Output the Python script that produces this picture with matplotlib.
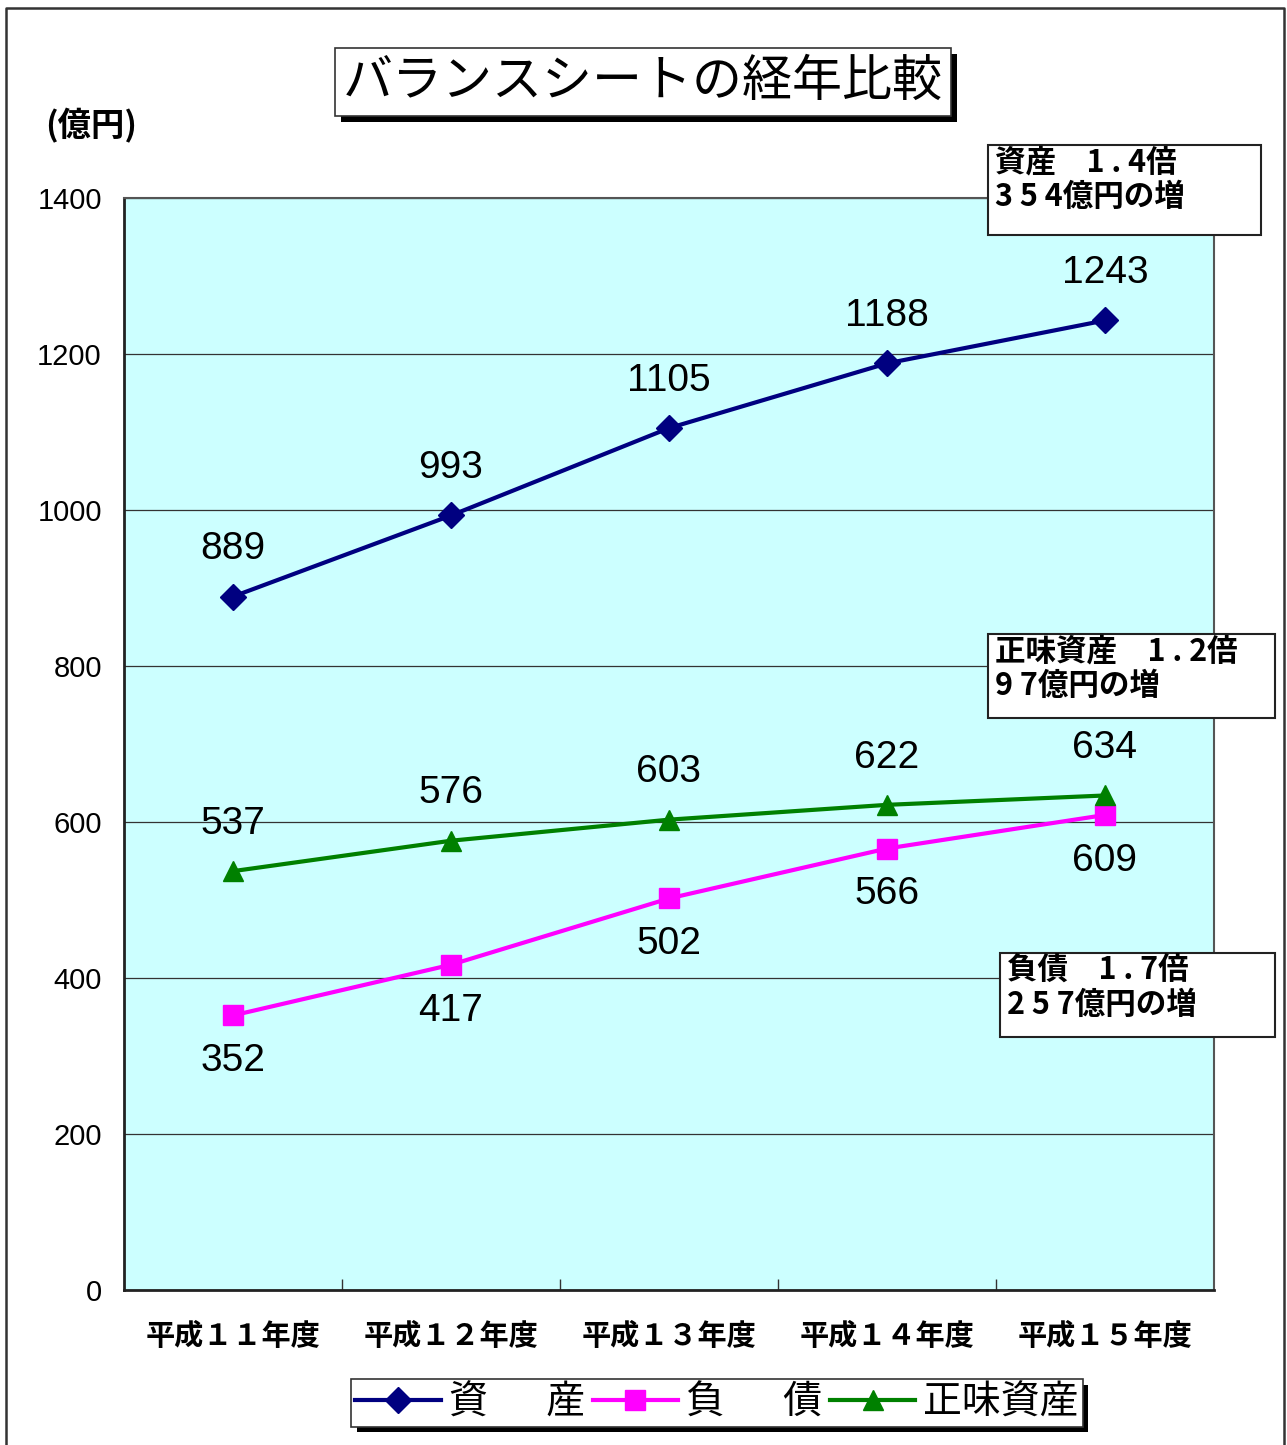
import matplotlib
matplotlib.use("Agg")
import matplotlib.pyplot as plt
import matplotlib.patheffects as pe
from matplotlib.lines import Line2D

plt.rcParams['font.family'] = ['Liberation Sans', 'Noto Sans CJK JP', 'DejaVu Sans']

# データ
years = ['平成１１年度', '平成１２年度', '平成１３年度', '平成１４年度', '平成１５年度']
assets = [889, 993, 1105, 1188, 1243]
liabilities = [352, 417, 502, 566, 609]
net_assets = [537, 576, 603, 622, 634]
series_names = ['資\u3000\u2002産', '負\u3000\u2002債', '正味資産']
notes = ['資産　1 . 4倍\n3 5 4億円の増',
         '正味資産　1 . 2倍\n9 7億円の増',
         '負債　1 . 7倍\n2 5 7億円の増']

cjk = ['Noto Sans CJK JP', 'DejaVu Sans']

fig = plt.figure(figsize=(12.87, 14.45), dpi=100)
W, H = 1287, 1445

# outer frame (open at the bottom)
fig.add_artist(Line2D([6 / W, 6 / W, 1284 / W, 1284 / W], [0, 1 - 8 / H, 1 - 8 / H, 0],
                      transform=fig.transFigure, color='#333333', lw=1.8))

ax = fig.add_axes([124 / W, 1 - 1290 / H, (1214 - 124) / W, (1290 - 198) / H])
ax.set_facecolor('#CCFFFF')

x = range(len(years))
ax.plot(x, assets, color='#000080', lw=3, marker='D', ms=13, label=series_names[0], zorder=3)
ax.plot(x, liabilities, color='#FF00FF', lw=3, marker='s', ms=14, label=series_names[1], zorder=3)
ax.plot(x, net_assets, color='#008000', lw=3, marker='^', ms=14, label=series_names[2], zorder=3)

# data labels
for i in x:
    ax.annotate(str(assets[i]), (i, assets[i]), xytext=(0, 34), textcoords='offset points',
                ha='center', va='center', fontsize=28)
    ax.annotate(str(liabilities[i]), (i, liabilities[i]), xytext=(0, -33), textcoords='offset points',
                ha='center', va='center', fontsize=28)
    ax.annotate(str(net_assets[i]), (i, net_assets[i]), xytext=(0, 34), textcoords='offset points',
                ha='center', va='center', fontsize=28)

ax.set_xlim(-0.5, 4.5)
ax.set_ylim(0, 1400)
ax.set_yticks(range(0, 1401, 200))
ax.yaxis.grid(True, color='#333333', lw=0.9)
ax.set_axisbelow(True)
ax.tick_params(axis='y', length=0, pad=16, labelsize=21)
ax.set_xticks(list(x))
ax.set_xticklabels(years, fontfamily=cjk, fontweight='bold', fontsize=21)
ax.set_xticks([0.5, 1.5, 2.5, 3.5], minor=True)
ax.tick_params(axis='x', which='major', length=0, pad=22)
ax.tick_params(axis='x', which='minor', direction='in', length=8, width=1, color='#333333')

for s in ['left', 'bottom']:
    ax.spines[s].set_color('#222222')
    ax.spines[s].set_linewidth(2)
for s in ['top', 'right']:
    ax.spines[s].set_color('#555555')
    ax.spines[s].set_linewidth(1.5)

shadow = [pe.SimplePatchShadow(offset=(4, -4), shadow_rgbFace='black', alpha=1), pe.Normal()]

# title
t = fig.text(643 / W, 1 - 82 / H, 'バランスシートの経年比較', ha='center', va='center',
             fontsize=36, family=cjk,
             bbox=dict(boxstyle='square,pad=0.16', fc='white', ec='#333333', lw=1.2))
t.get_bbox_patch().set_path_effects(shadow)

fig.text(45 / W, 1 - 126 / H, '(億円)', ha='left', va='center', fontsize=24,
         fontweight='bold', family=cjk)

# note boxes
note_pos = [(988, 145, 1261, 235), (988, 634, 1275, 718), (1000, 953, 1275, 1037)]
for txt, (x0, y0, x1, y1) in zip(notes, note_pos):
    fig.add_artist(plt.Rectangle((x0 / W, 1 - y1 / H), (x1 - x0) / W, (y1 - y0) / H,
                                 transform=fig.transFigure, fc='white', ec='#222222', lw=1.5,
                                 zorder=5))
    fig.text((x0 + 7) / W, 1 - (y0 + 1) / H, txt, ha='left', va='top', fontsize=22,
             fontweight='bold', family=cjk, linespacing=1.12, zorder=6)

leg = fig.legend(loc='center', bbox_to_anchor=(717 / W, 1 - 1403 / H), ncol=3,
                 prop={'family': cjk, 'size': 28}, frameon=True, fancybox=False,
                 framealpha=1, facecolor='white',
                 edgecolor='#333333', handlelength=2.2, handletextpad=0.2, columnspacing=0.2,
                 borderpad=0.1, borderaxespad=0)
leg.get_frame().set_linewidth(1.2)
leg.get_frame().set_path_effects(shadow)

fig.savefig('out.png', dpi=100)
